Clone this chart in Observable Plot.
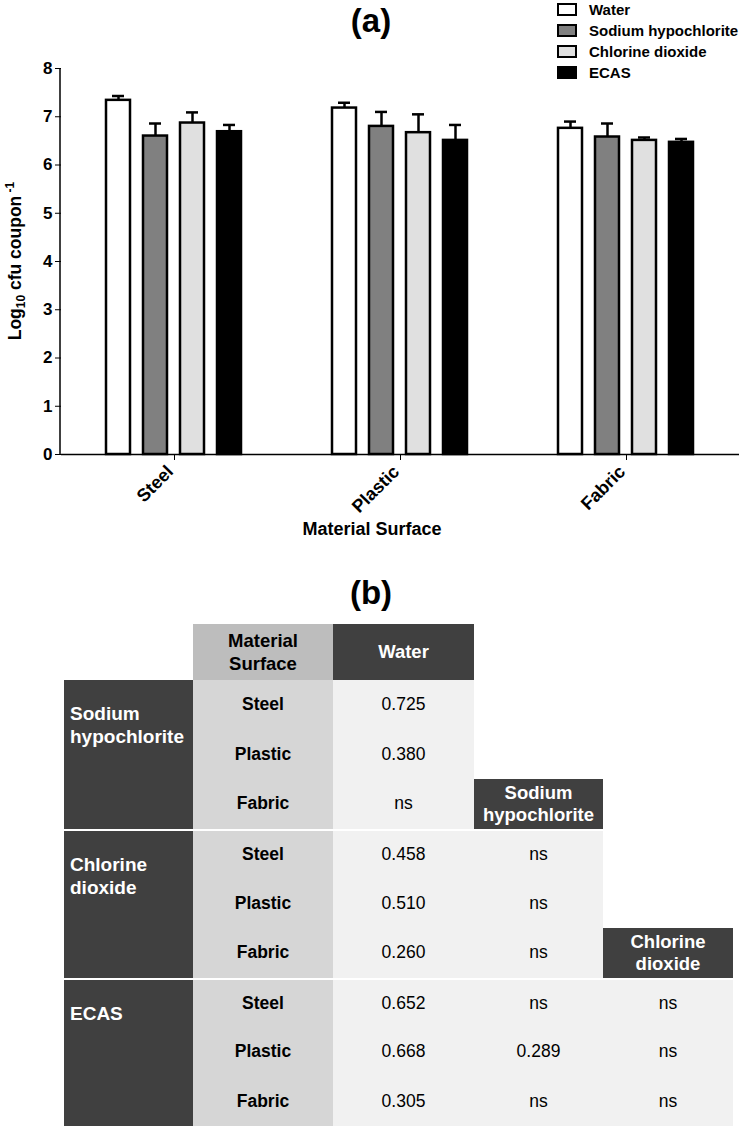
<!DOCTYPE html>
<html>
<head>
<meta charset="utf-8">
<script src="https://cdn.jsdelivr.net/npm/d3@7"></script>
<script src="https://cdn.jsdelivr.net/npm/@observablehq/plot@0.6"></script>
<style>
  body { margin: 0; background: #fff; }
  #page { position: relative; width: 742px; height: 1127px; overflow: hidden; font-family: "Liberation Sans", Arial, sans-serif; color: #000; }
  .title { position: absolute; left: 0; width: 742px; text-align: center; font-weight: bold; font-size: 33px; line-height: 36px; }
  #chart { position: absolute; left: 0; top: 0; }
  #legend { position: absolute; left: 557px; top: -1px; font-weight: bold; font-size: 15px; }
  .lrow { display: flex; align-items: center; height: 21px; white-space: nowrap; }
  .sw { width: 16px; height: 9px; border: 2px solid #000; margin-right: 12px; }
  #table { position: absolute; left: 64px; top: 624px; display: grid;
           grid-template-columns: 129px 140px 141px 129px 130px;
           grid-template-rows: 56px repeat(9, 49.6px); }
  .c { display: flex; align-items: center; justify-content: center; text-align: center; box-sizing: border-box; }
  .hd { background: #404040; color: #fff; font-weight: bold; font-size: 18.5px; line-height: 22px; }
  .ms { background: #bdbdbd; color: #000; font-weight: bold; font-size: 18.5px; line-height: 23px; }
  .grp { background: #404040; color: #fff; font-weight: bold; font-size: 19px; line-height: 23px; box-sizing: border-box; padding: 22px 0 0 6px; text-align: left; }
  .mat { background: #d6d6d6; font-weight: bold; font-size: 17.5px; }
  .val { background: #f1f1f1; font-size: 17.5px; }
  .sep { border-top: 2px solid #fff; }
</style>
</head>
<body>
<div id="page">
  <div class="title" style="top:3px;">(a)</div>
  <div id="chart"></div>
  <div id="legend"></div>
  <div class="title" style="top:575px;">(b)</div>
  <div id="table"></div>
</div>
<script>
// ---- Chart (a) data ----
const materials = ["Steel", "Plastic", "Fabric"];
const treatments = ["Water", "Sodium hypochlorite", "Chlorine dioxide", "ECAS"];
const treatmentFills = ["#ffffff", "#808080", "#e0e0e0", "#000000"];
const meanSteel = [7.34, 6.60, 6.87, 6.69];
const meanPlastic = [7.18, 6.80, 6.67, 6.51];
const meanFabric = [6.76, 6.58, 6.51, 6.47];
const semSteel = [0.09, 0.26, 0.22, 0.14];
const semPlastic = [0.11, 0.30, 0.38, 0.32];
const semFabric = [0.14, 0.28, 0.06, 0.07];
const yTicks = [0, 1, 2, 3, 4, 5, 6, 7, 8];
const xAxisTitle = "Material Surface";

// ---- Table (b) data ----
const tableGroups = ["Sodium hypochlorite", "Chlorine dioxide", "ECAS"];
const tableSurfaces = ["Steel", "Plastic", "Fabric"];
const pWater = [["0.725", "0.380", "ns"], ["0.458", "0.510", "0.260"], ["0.652", "0.668", "0.305"]];
const pSodium = [null, ["ns", "ns", "ns"], ["ns", "0.289", "ns"]];
const pChlorine = [null, null, ["ns", "ns", "ns"]];

const means = [meanSteel, meanPlastic, meanFabric];
const sems = [semSteel, semPlastic, semFabric];
const data = [];
materials.forEach((m, i) => treatments.forEach((t, j) =>
  data.push({material: m, treatment: t, mean: means[i][j], sem: sems[i][j]})));

const chart = Plot.plot({
  width: 742,
  height: 545,
  marginTop: 68,
  marginBottom: 91,
  marginLeft: 60,
  marginRight: 3,
  style: {fontFamily: '"Liberation Sans", Arial, sans-serif', fontSize: "17px", fontWeight: "bold", color: "#000", background: "transparent", overflow: "visible"},
  fx: {domain: materials, padding: 0, axis: "bottom", label: null, tickRotate: -45, tickSize: 6, tickPadding: 4},
  x: {domain: treatments, paddingInner: 0.347, paddingOuter: 1.19, axis: null},
  y: {domain: [0, 8], ticks: yTicks, tickSize: 6, tickPadding: 3, label: null},
  color: {domain: treatments, range: treatmentFills},
  marks: [
    Plot.barY(data, {fx: "material", x: "treatment", y: "mean", fill: "treatment", stroke: "#000", strokeWidth: 2.5}),
    Plot.ruleX(data, {fx: "material", x: "treatment", y1: "mean", y2: d => d.mean + d.sem, stroke: "#000", strokeWidth: 2.5}),
    Plot.tickY(data, {fx: "material", x: "treatment", y: d => d.mean + d.sem, stroke: "#000", strokeWidth: 2.5, insetLeft: 6, insetRight: 6}),
    Plot.ruleY([0], {stroke: "#000", strokeWidth: 1.5})
  ]
});

const ys = chart.scale("y");
const svg = d3.select(chart);
// shift rotated facet tick labels along their direction
svg.selectAll('g[aria-label="fx-axis tick label"] text, g[aria-label="fx-axis"] .tick text')
  .attr("dx", -6).attr("font-size", 18);
// y-axis line
svg.append("line")
  .attr("x1", 60).attr("x2", 60)
  .attr("y1", ys.apply(0)).attr("y2", ys.apply(8))
  .attr("stroke", "#000").attr("stroke-width", 1.5);
// y label with sub/superscript
const yl = svg.append("text")
  .attr("transform", `translate(21,${(ys.apply(0) + ys.apply(8)) / 2}) rotate(-90)`)
  .attr("text-anchor", "middle")
  .attr("font-size", 17.5).attr("font-weight", "bold").attr("fill", "#000");
yl.append("tspan").text("Log");
yl.append("tspan").attr("font-size", 12).attr("dy", 4).text("10");
yl.append("tspan").attr("dy", -4).text(" cfu coupon");
yl.append("tspan").attr("font-size", 12).attr("dy", -7).text(" -1");
// x axis title
svg.append("text")
  .attr("x", 372).attr("y", ys.apply(0) + 81)
  .attr("text-anchor", "middle")
  .attr("font-size", 18).attr("font-weight", "bold").attr("fill", "#000")
  .text(xAxisTitle);
document.getElementById("chart").appendChild(chart);

// legend
const legend = document.getElementById("legend");
treatments.forEach((t, i) => {
  const row = document.createElement("div");
  row.className = "lrow";
  row.innerHTML = `<div class="sw" style="background:${treatmentFills[i]}"></div><span>${t}</span>`;
  legend.appendChild(row);
});

// table
const table = document.getElementById("table");
function cell(cls, html, row, col, rowSpan = 1) {
  const d = document.createElement("div");
  d.className = cls;
  d.innerHTML = html;
  d.style.gridRow = `${row} / span ${rowSpan}`;
  d.style.gridColumn = `${col}`;
  table.appendChild(d);
}
const br = s => s.split(" ").join("<br>");
cell("c ms", br("Material Surface"), 1, 2);
cell("c hd", "Water", 1, 3);
tableGroups.forEach((g, gi) => {
  const r0 = 2 + gi * 3;
  const sep = gi > 0 ? " sep" : "";
  cell("grp" + sep, br(g), r0, 1, 3);
  tableSurfaces.forEach((s, si) => {
    const r = r0 + si;
    const sp = si === 0 ? sep : "";
    cell("c mat" + sp, s, r, 2);
    cell("c val" + sp, pWater[gi][si], r, 3);
    if (pSodium[gi]) cell("c val" + sp, pSodium[gi][si], r, 4);
    if (pChlorine[gi]) cell("c val" + sp, pChlorine[gi][si], r, 5);
  });
});
cell("c hd", br("Sodium hypochlorite"), 4, 4);
cell("c hd", br("Chlorine dioxide"), 7, 5);
</script>
</body>
</html>
